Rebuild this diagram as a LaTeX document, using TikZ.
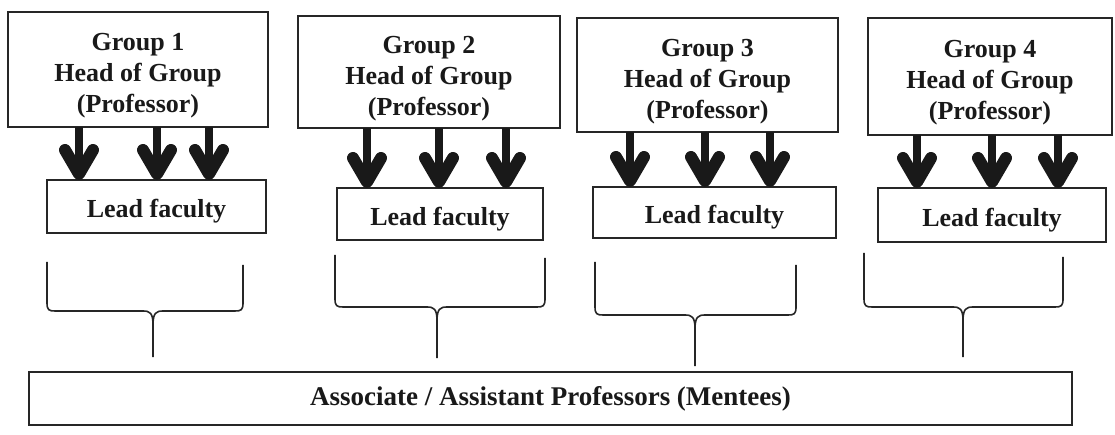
\documentclass[tikz,border=0pt]{standalone}
\usepackage{fontspec}
\setmainfont{Liberation Serif}
\usetikzlibrary{arrows.meta}
\newcommand{\toppad}[1]{\rule{0pt}{#1}}
\begin{document}
\begin{tikzpicture}[x=1pt,y=-1pt,
  box/.style={draw=black!85,line width=1.5pt,inner sep=0pt,outer sep=0pt,align=center,
    font=\fontsize{26}{31}\selectfont\bfseries,text=black!90},
  bigarrow/.style={line width=8pt,draw=black!90,
    -{Straight Barb[length=24pt,width=28pt,line width=12pt,round]}},
  brace/.style={line width=1.6pt,draw=black!85}]
\useasboundingbox (0,0) rectangle (1115,435);

% heads of groups
\node[box,minimum width=260pt,minimum height=115pt] (g1) at (138,69.5) {\toppad{30pt}Group 1\\Head of Group\\(Professor)};
\node[box,minimum width=262pt,minimum height=112pt] (g2) at (429,72) {\toppad{30pt}Group 2\\Head of Group\\(Professor)};
\node[box,minimum width=261pt,minimum height=114pt] (g3) at (707.5,75) {\toppad{30pt}Group 3\\Head of Group\\(Professor)};
\node[box,minimum width=244pt,minimum height=117pt] (g4) at (990,76.5) {\toppad{30pt}Group 4\\Head of Group\\(Professor)};

% lead faculty
\node[box,minimum width=219pt,minimum height=53pt] (l1) at (156.5,206.5) {\toppad{28pt}Lead faculty};
\node[box,minimum width=206pt,minimum height=52pt] (l2) at (440,214) {\toppad{28pt}Lead faculty};
\node[box,minimum width=243pt,minimum height=51pt] (l3) at (714.5,212.5) {\toppad{28pt}Lead faculty};
\node[box,minimum width=228pt,minimum height=54pt] (l4) at (992,215) {\toppad{28pt}Lead faculty};

% mentees
\node[box,line width=2pt,minimum width=1043pt,minimum height=53pt,font=\fontsize{27}{30}\selectfont\bfseries] (m) at (550.5,398.5) {Associate / Assistant Professors (Mentees)};

% arrow columns
\foreach \n/\x in {a11/79,a12/157,a13/209,a21/367,a22/439,a23/506,
                   a31/630,a32/705,a33/770,a41/917,a42/992,a43/1058}
  \coordinate (\n) at (\x,0);
\foreach \g in {1,2,3,4}
  \foreach \k in {1,2,3}
    \draw[bigarrow] (g\g.south -| a\g\k) -- (l\g.north -| a\g\k);

% braces: left x, left top, right x, right top, bar y, tip x, tip bottom
\foreach \xl/\tl/\xr/\tr/\h/\xs/\b in {47/262/243/265/311/153/357,
                                      335/255/545/258/307/437/358,
                                      595/262/796/265/315/695/366,
                                      864/253/1063/257/307/963/357}{
  \draw[brace] (\xl,\tl) -- (\xl,\h-8) .. controls (\xl,\h-1) and (\xl+2,\h) .. (\xl+8,\h)
    -- (\xs-10,\h) .. controls (\xs-3,\h) and (\xs,\h+2) .. (\xs,\h+14) -- (\xs,\b);
  \draw[brace] (\xr,\tr) -- (\xr,\h-8) .. controls (\xr,\h-1) and (\xr-2,\h) .. (\xr-8,\h)
    -- (\xs+10,\h) .. controls (\xs+3,\h) and (\xs,\h+2) .. (\xs,\h+14);
}
\end{tikzpicture}
\end{document}
